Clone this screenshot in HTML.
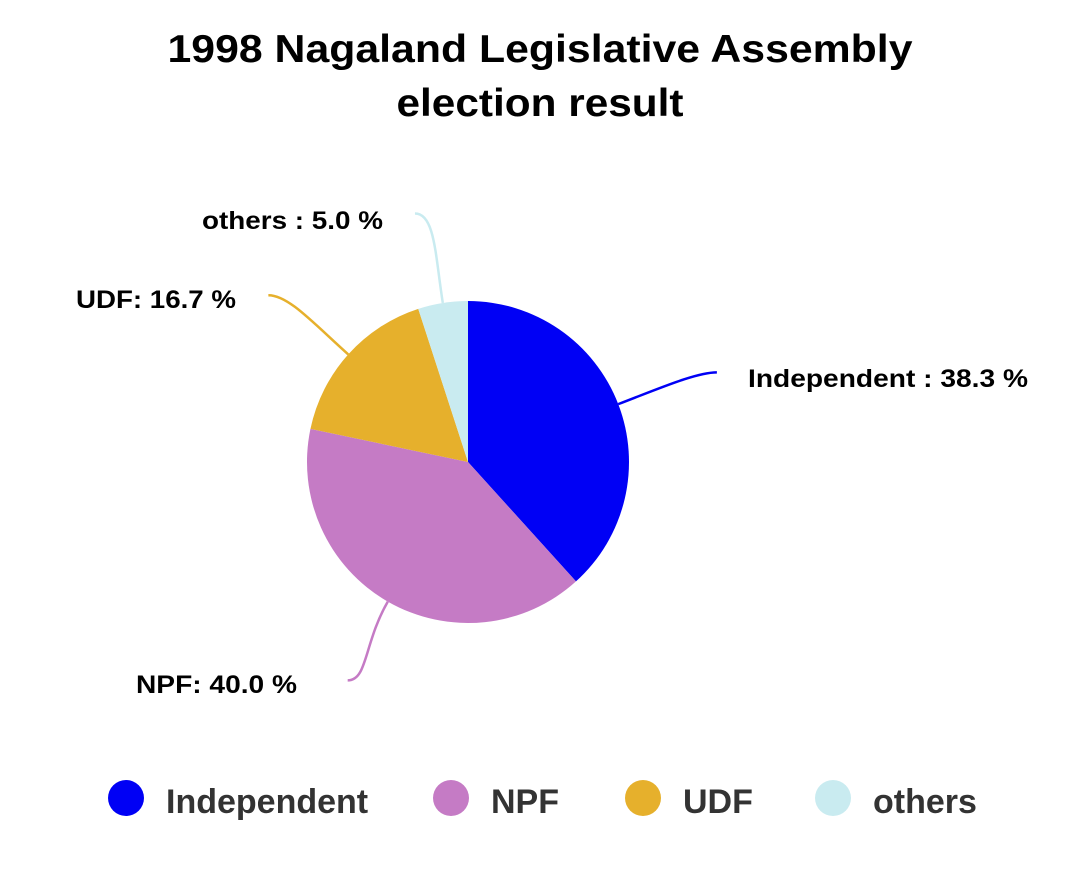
<!DOCTYPE html>
<html><head><meta charset="utf-8"><style>
body{margin:0;background:#fff;}
svg{display:block;font-family:"Liberation Sans",sans-serif;font-weight:bold;}
</style></head><body>
<svg width="1080" height="882" viewBox="0 0 1080 882">
<text x="540" y="62" text-anchor="middle" font-size="39" fill="#000" textLength="745" lengthAdjust="spacingAndGlyphs">1998 Nagaland Legislative Assembly</text>
<text x="540" y="116" text-anchor="middle" font-size="39" fill="#000" textLength="287" lengthAdjust="spacingAndGlyphs">election result</text>
<g id="slices"></g>
<g id="leaders"></g>
<g id="labels"></g>
<g id="legend"></g>
</svg>
<script>
const categories = ["Independent", "NPF", "UDF", "others"];
const values = [38.3, 40.0, 16.7, 5.0];
const valueLabels = ["Independent : 38.3 %", "NPF: 40.0 %", "UDF: 16.7 %", "others : 5.0 %"];
const colors = ["#0000f5", "#c57bc5", "#e6b02c", "#c9ebf0"];

const NS = "http://www.w3.org/2000/svg";
const cx = 468, cy = 462, r = 161;
const total = values.reduce((a,b)=>a+b,0);
const labelPos = [[748,387,"start",280],[297,693,"end",161],[236,308,"end",160],[383,229,"end",181]];
const endOff = [[16,0],[4,2],[-14,0],[-14,-2]];
function pt(a, rr){ return [cx + rr*Math.sin(a), cy - rr*Math.cos(a)]; }
let acc = 0;
const sl = document.getElementById("slices"), ld = document.getElementById("leaders"), lb = document.getElementById("labels");
values.forEach((v,i)=>{
  const a0 = acc/total*2*Math.PI; acc += v;
  const a1 = acc/total*2*Math.PI;
  const p0 = pt(a0,r), p1 = pt(a1,r);
  const large = (a1-a0) > Math.PI ? 1 : 0;
  const path = document.createElementNS(NS,"path");
  path.setAttribute("d",`M${cx},${cy} L${p0[0]},${p0[1]} A${r},${r} 0 ${large} 1 ${p1[0]},${p1[1]} Z`);
  path.setAttribute("fill",colors[i]);
  
  
  sl.appendChild(path);
  const am = (a0+a1)/2;
  const s = pt(am,r), c = pt(am,r*1.3), e0 = pt(am,r*1.55);
  const e = [e0[0]+endOff[i][0], e0[1]+endOff[i][1]];
  const side = Math.sin(am) >= 0 ? 1 : -1;
  const c2 = [e[0] - side*20, e[1]];
  const line = document.createElementNS(NS,"path");
  line.setAttribute("d",`M${s[0]},${s[1]} C${c[0]},${c[1]} ${c2[0]},${c2[1]} ${e[0]},${e[1]}`);
  line.setAttribute("fill","none");
  line.setAttribute("stroke",colors[i]);
  line.setAttribute("stroke-width","2.5");
  
  
  ld.appendChild(line);
  const t = document.createElementNS(NS,"text");
  t.setAttribute("x",labelPos[i][0]); t.setAttribute("y",labelPos[i][1]);
  t.setAttribute("text-anchor",labelPos[i][2]);
  t.setAttribute("textLength",labelPos[i][3]);
  t.setAttribute("lengthAdjust","spacingAndGlyphs");
  t.setAttribute("font-size","25"); t.setAttribute("fill","#000");
  t.textContent = valueLabels[i];
  
  
  lb.appendChild(t);
});
const lg = document.getElementById("legend");
const legX = [126, 451, 643, 833];
categories.forEach((c,i)=>{
  const g = document.createElementNS(NS,"g");
  
  
  const ci = document.createElementNS(NS,"circle");
  ci.setAttribute("cx",legX[i]); ci.setAttribute("cy",798); ci.setAttribute("r",18);
  ci.setAttribute("fill",colors[i]);
  
  
  const t = document.createElementNS(NS,"text");
  t.setAttribute("x",legX[i]+40); t.setAttribute("y",813);
  t.setAttribute("font-size","34"); t.setAttribute("fill","#333");
  t.textContent = c;
  
  
  g.appendChild(ci); g.appendChild(t); lg.appendChild(g);
});
</script>
</body></html>
